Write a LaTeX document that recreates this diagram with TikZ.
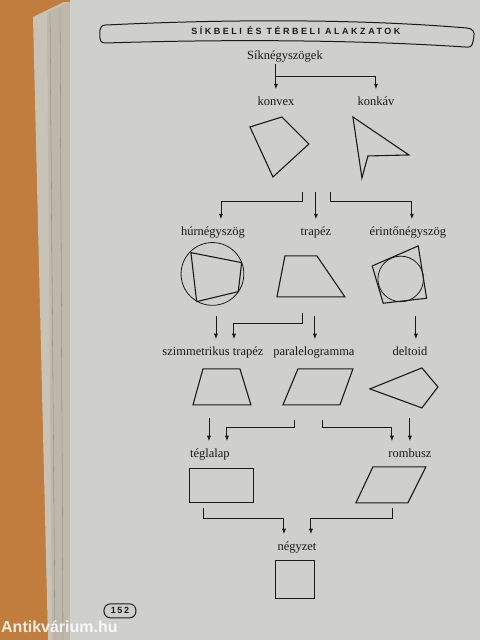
\documentclass[tikz,border=0pt]{standalone}
\usepackage{fontspec}
\setmainfont{Liberation Serif}
\newfontfamily\headfont[LetterSpace=28]{Liberation Sans}
\newfontfamily\numfont[LetterSpace=18]{Liberation Sans}
\newfontfamily\markfont{Liberation Sans}
\usetikzlibrary{arrows.meta, calc}

\definecolor{paper}{HTML}{CFCFCC}
\definecolor{wood}{HTML}{C07D3E}
\definecolor{pageedge}{HTML}{BDB8AA}
\definecolor{ink}{HTML}{1A1A1A}

\begin{document}
\begin{tikzpicture}[x=1pt, y=-1pt,
    lbl/.style={font=\fontsize{12.5}{14}\selectfont, inner sep=1pt, text height=8.5pt, text depth=2.5pt, text=ink},
    fig/.style={draw=ink, line width=1.1pt},
    arr/.style={draw=ink, line width=0.9pt, shorten >=7pt, -{Latex[length=5.5pt,width=4.2pt]}}]

        % Background: table, page stack, page
        \fill[wood] (0,0) rectangle (480,640);
        \fill[pageedge!85!white] (33,17) -- (64,2) -- (72,2) -- (73,640) -- (48,640) -- cycle;
        \fill[pageedge] (47,12) -- (70,2) -- (73,640) -- (52,640) -- cycle;
        \draw[pageedge!70!black, line width=0.3pt] (50,12) -- (55,640);
        \draw[pageedge!70!black, line width=0.3pt] (60,8) -- (63,640);
        \fill[paper] (70,0) rectangle (480,640);
        \useasboundingbox (0,0) rectangle (480,640);

        % Header banner
        \draw[ink, line width=1pt, fill=paper] (106,25) .. controls (230,19) and (360,19) .. (467,28)
            .. controls (473,28.5) and (475,32) .. (474,37) -- (473,42)
            .. controls (472,47) and (470,47.5) .. (465,47)
            .. controls (360,40) and (230,39) .. (106,43)
            .. controls (101,43) and (100,41) .. (100,38) -- (100,30)
            .. controls (100,27) and (102,25) .. (106,25) -- cycle;
        \node[text=ink, inner sep=0pt] (head) at (296,31)
            {\headfont\bfseries\fontsize{9}{10}\selectfont SÍKBELI ÉS TÉRBELI ALAKZATOK};

        % Labels
        \node[lbl] (sik) at (285,57) {Síknégyszögek};
        \node[lbl] (konvex) at (276,103) {konvex};
        \node[lbl] (konkav) at (376,103) {konkáv};
        \node[lbl] (hur) at (213,233) {húrnégyszög};
        \node[lbl] (trapez) at (316,233) {trapéz};
        \node[lbl] (erinto) at (408,233) {érintőnégyszög};
        \node[lbl] (szimm) at (213,353) {szimmetrikus trapéz};
        \node[lbl] (paral) at (314,353) {paralelogramma};
        \node[lbl] (deltoid) at (410,353) {deltoid};
        \node[lbl] (teglalap) at (210,455) {téglalap};
        \node[lbl] (rombusz) at (410,455) {rombusz};
        \node[lbl] (negyzet) at (297,548) {négyzet};

        % Shapes
        \draw[fig] (250,127) -- (282,117) -- (309,144) -- (273,177) -- cycle;
        \draw[fig] (353,117) -- (409,155) -- (368,156) -- (362,178) -- cycle;

        \draw[ink, line width=0.8pt] (212.5,274) circle (31.4);
        \draw[fig] (191,252.7) -- (241.7,262.7) -- (238.3,291.7) -- (196.7,301.7) -- cycle;
        \draw[fig] (285,256) -- (317,256) -- (345,297) -- (277,297) -- cycle;
        \draw[ink, line width=0.8pt] (400.8,279) circle (22.8);
        \draw[fig] (372.3,266) -- (418.3,246) -- (426.7,298.3) -- (383.3,303.3) -- cycle;

        \draw[fig] (203,369) -- (240,369) -- (251,405) -- (193,405) -- cycle;
        \draw[fig] (298,369) -- (353,369) -- (340,405) -- (283,405) -- cycle;
        \draw[fig] (370,389) -- (422,368) -- (438,387) -- (422,408) -- cycle;

        \draw[fig] (189.4,468.4) rectangle (253.4,502.4);
        \draw[fig] (373,467) -- (426,467) -- (408,503) -- (356,503) -- cycle;

        \draw[fig] (275.4,560.4) rectangle (314.4,598.4);

        %connectors, first level
        \coordinate (k1) at (276,76);
        \draw[arr] (sik.south -| konvex) -- (konvex);
        \draw[arr] (k1) -| (konkav);

        %second level
        \coordinate (b1) at (303,192);
        \coordinate (b2) at (316,192);
        \coordinate (b3) at (331,192);
        \draw[arr] (b1) -- ++(0,9) -| ([xshift=8pt]hur.north);
        \draw[arr] (b2) -- (trapez);
        \draw[arr] (b3) -- ++(0,9) -| ([xshift=4pt]erinto.north);

        %third level
        \coordinate (c1) at (216,316);
        \coordinate (c2) at (303,313);
        \coordinate (c3) at (315,316);
        \coordinate (c4) at (416,316);
        \draw[arr] (c1) -- (c1 |- szimm.north);
        \draw[arr] (c2) -- ++(0,11) -| ([xshift=21pt]szimm.north);
        \draw[arr] (c3) -- (c3 |- paral.north);
        \draw[arr] (c4) -- (c4 |- deltoid.north);

        %fourth level
        \coordinate (d1) at (209,418);
        \coordinate (d2) at (295,420);
        \coordinate (d3) at (323,420);
        \coordinate (d4) at (410,418);
        \draw[arr] (d1) -- (d1 |- teglalap.north);
        \draw[arr] (d2) -- ++(0,8) -| ([xshift=17pt]teglalap.north);
        \draw[arr] (d3) -- ++(0,8) -| ([xshift=-18pt]rombusz.north);
        \draw[arr] (d4) -- (d4 |- rombusz.north);

        %last level
        \coordinate (e1) at (203,508);
        \coordinate (e2) at (393,508);
        \draw[arr] (e1) -- ++(0,11) -| ([xshift=-13pt]negyzet.north);
        \draw[arr] (e2) -- ++(0,11) -| ([xshift=14pt]negyzet.north);

        % Page number and watermark
        \node[draw=ink, line width=1pt, rounded corners=6.5pt, minimum width=32pt, minimum height=14pt,
            inner sep=0pt, text=ink] (pagenum) at (120,611)
            {\numfont\bfseries\fontsize{9}{10}\selectfont 152};
        \node[anchor=west, inner sep=0pt, text=white, opacity=0.85] (mark) at (1,627)
            {\markfont\bfseries\fontsize{16}{17}\selectfont Antikvárium.hu};
\end{tikzpicture}
\end{document}
